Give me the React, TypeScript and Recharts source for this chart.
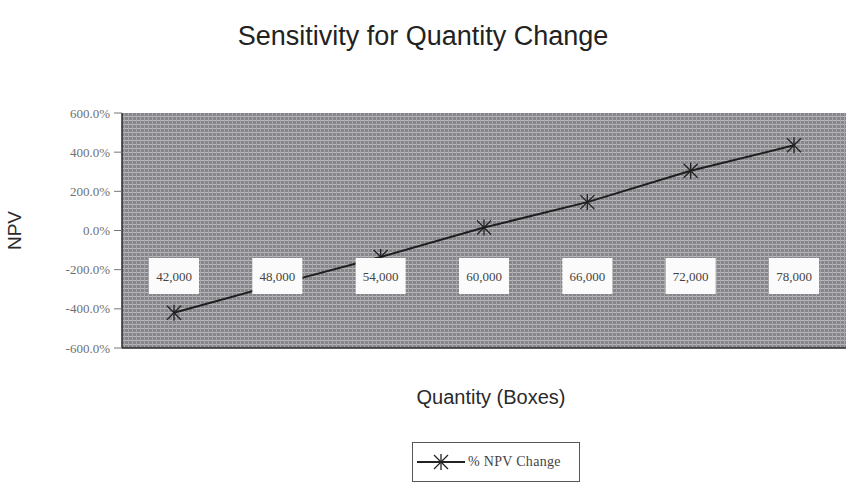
import { LineChart, Line, XAxis, YAxis, Legend, CartesianGrid } from 'recharts'

const quantities = ['42,000', '48,000', '54,000', '60,000', '66,000', '72,000', '78,000']
const npvChange = [-420, -275, -135, 15, 145, 305, 435]
const yTicks = [-600, -400, -200, 0, 200, 400, 600]

const data = quantities.map((q, i) => ({ quantity: q, npv: npvChange[i] }))

const serif = '"Liberation Serif", "DejaVu Serif", serif'
const sans = '"Liberation Sans", Arial, sans-serif'

function formatPct(v: number) {
  return `${v.toFixed(1)}%`
}

// category names sit in white boxes inside the plot, near the -200% level,
// drawn as the line's labels so they cover the line like in the original
function QuantityLabel(props: any) {
  const { x, index } = props
  if (x == null || index == null) return null
  const cy = 276
  return (
    <g>
      <rect x={x - 25} y={cy - 18} width={50} height={36} fill="#fbfbfb" />
      <text x={x} y={cy + 5} textAnchor="middle" fontFamily={serif} fontSize={13} fill="#444">
        {quantities[index]}
      </text>
    </g>
  )
}

function StarDot(props: any) {
  const { cx, cy } = props
  if (cx == null || cy == null) return null
  const r = 7
  return (
    <g stroke="#222" strokeWidth={1.3}>
      <line x1={cx - r} y1={cy - r} x2={cx + r} y2={cy + r} />
      <line x1={cx - r} y1={cy + r} x2={cx + r} y2={cy - r} />
      <line x1={cx} y1={cy - r - 1} x2={cx} y2={cy + r + 1} />
    </g>
  )
}

function LegendBox() {
  return (
    <div
      style={{
        width: 168,
        height: 40,
        border: '1.5px solid #555',
        background: '#fff',
        display: 'flex',
        alignItems: 'center',
        boxSizing: 'border-box',
      }}
    >
      <svg width={54} height={20}>
        <line x1={4} y1={10} x2={52} y2={10} stroke="#222" strokeWidth={2} />
        <g stroke="#222" strokeWidth={1.3}>
          <line x1={21} y1={3} x2={35} y2={17} />
          <line x1={21} y1={17} x2={35} y2={3} />
          <line x1={28} y1={2} x2={28} y2={18} />
        </g>
      </svg>
      <span style={{ fontFamily: serif, fontSize: 14, color: '#444', marginLeft: 1, letterSpacing: 0.3 }}>
        % NPV Change
      </span>
    </div>
  )
}

export default function App() {
  return (
    <div style={{ position: 'absolute', left: 0, top: 0, width: 846, height: 487, background: '#fff' }}>
      <div
        style={{
          position: 'absolute',
          left: 0,
          width: 846,
          top: 21,
          textAlign: 'center',
          fontFamily: sans,
          fontSize: 27,
          color: '#222',
        }}
      >
        Sensitivity for Quantity Change
      </div>
      <div
        style={{
          position: 'absolute',
          left: 380,
          width: 222,
          top: 386,
          textAlign: 'center',
          fontFamily: sans,
          fontSize: 20,
          color: '#2a2a2a',
        }}
      >
        Quantity (Boxes)
      </div>
      <LineChart width={846} height={487} data={data} margin={{ top: 113, right: 0, bottom: 99, left: 0 }}>
        <defs>
          <pattern id="hatch" width={4} height={4} patternUnits="userSpaceOnUse">
            <rect width={4} height={4} fill="#86868a" />
            <line x1={0} y1={0.5} x2={4} y2={0.5} stroke="#b9b9bd" strokeWidth={1} />
            <line x1={0.5} y1={0} x2={0.5} y2={4} stroke="#a6a6aa" strokeWidth={1} />
          </pattern>
        </defs>
        <CartesianGrid fill="url(#hatch)" fillOpacity={1} horizontal={false} vertical={false} />
        <YAxis
          domain={[-600, 600]}
          ticks={yTicks}
          tickFormatter={formatPct}
          width={122}
          axisLine={{ stroke: '#2a2a2a', strokeWidth: 1.5 }}
          tickLine={{ stroke: '#777' }}
          tickSize={8}
          tickMargin={4}
          tick={{ fontFamily: serif, fontSize: 13, fill: '#707070' }}
          label={{
            value: 'NPV',
            angle: -90,
            position: 'insideLeft',
            offset: 14,
            style: { fontFamily: sans, fontSize: 19, fill: '#2a2a2a', textAnchor: 'middle' },
          }}
        />
        <XAxis
          xAxisId="top"
          orientation="top"
          dataKey="quantity"
          height={0}
          tick={false}
          tickLine={false}
          axisLine={{ stroke: '#2a2a2a', strokeWidth: 1.5 }}
        />
        <XAxis
          dataKey="quantity"
          padding={{ left: 52, right: 52 }}
          axisLine={{ stroke: '#2a2a2a', strokeWidth: 1.5 }}
          tickLine={false}
          tick={false}
          height={40}
        />
        <Legend
          layout="horizontal"
          verticalAlign="middle"
          align="center"
          content={<LegendBox />}
          wrapperStyle={{ left: 412, top: 442, width: 168 }}
        />
        <Line
          dataKey="npv"
          name="% NPV Change"
          stroke="#1e1e1e"
          strokeWidth={2}
          dot={<StarDot />}
          activeDot={false}
          label={<QuantityLabel />}
          isAnimationActive={false}
        />
      </LineChart>
    </div>
  )
}
